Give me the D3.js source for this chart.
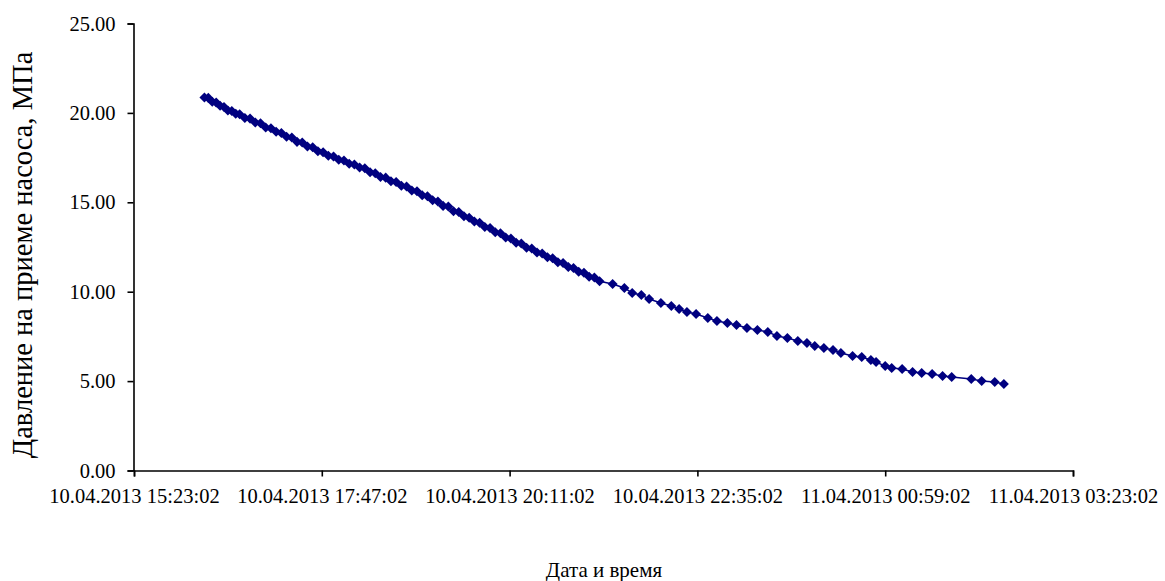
<!DOCTYPE html>
<html><head><meta charset="utf-8">
<script src="https://cdn.jsdelivr.net/npm/d3@7"></script>
<style>body{margin:0;background:#fff}svg{display:block}text{font-family:"Liberation Serif","Times New Roman",serif;fill:#000}</style>
</head><body><svg id="c" width="1165" height="581"></svg>
<script>
// Start of the time axis: 10.04.2013 15:23:02
const startTime = new Date(2013, 3, 10, 15, 23, 2);
// Elapsed minutes since start for each measurement
const elapsedMin = [54,57,60,63,66,69,72,75,78,81,85,89,93,97,101,105,109,113,117,121,125,129,133,137,141,145,149,153,157,161,165,169,173,177,181,185,189,193,197,201,205,209,213,217,221,225,229,233,237,241,245,249,253,257,261,265,269,273,277,281,285,289,293,297,301,305,309,313,317,321,325,329,333,337,341,345,349,353,357,
367,376,382,389,395,404,412,418,424,431,440,447,455,462,470,478,486,493,501,509,516,522,529,536,542,551,558,565,569,576,581,589,597,604,612,620,627,642,650,660,667];
// Pump intake pressure, MPa
const pressure = [20.86,20.84,20.62,20.58,20.40,20.33,20.14,20.10,19.95,19.92,19.72,19.68,19.46,19.42,19.18,19.14,18.94,18.88,18.66,18.62,18.38,18.34,18.12,18.08,17.86,17.80,17.60,17.56,17.38,17.34,17.15,17.12,16.94,16.90,16.68,16.63,16.42,16.38,16.18,16.14,15.93,15.88,15.66,15.62,15.40,15.34,15.12,15.05,14.80,14.76,14.50,14.46,14.22,14.14,13.93,13.86,13.62,13.56,13.32,13.27,13.03,12.97,12.74,12.69,12.46,12.41,12.19,12.14,11.93,11.87,11.65,11.60,11.38,11.33,11.11,11.06,10.84,10.79,10.58,
10.43,10.21,9.93,9.82,9.59,9.37,9.20,9.03,8.86,8.75,8.53,8.36,8.25,8.14,7.97,7.86,7.75,7.52,7.41,7.24,7.13,6.96,6.85,6.74,6.57,6.40,6.35,6.18,6.07,5.84,5.73,5.68,5.51,5.45,5.40,5.29,5.23,5.12,5.01,4.95,4.84];
const xTickLabels = ["10.04.2013 15:23:02","10.04.2013 17:47:02","10.04.2013 20:11:02","10.04.2013 22:35:02","11.04.2013 00:59:02","11.04.2013 03:23:02"];
const yTicks = [0,5,10,15,20,25];
const xTitle = "Дата и время";
const yTitle = "Давление на приеме насоса, МПа";

const svg = d3.select("#c");
const color = "#000080";
const tickStepMs = 144*60*1000;
const endTime = new Date(startTime.getTime() + 5*tickStepMs);
const x = d3.scaleTime().domain([startTime, endTime]).range([134, 1073]);
const y = d3.scaleLinear().domain([0, 25]).range([470.5, 23.5]);
const xTickVals = xTickLabels.map((_, i) => new Date(startTime.getTime() + i*tickStepMs));

const data = elapsedMin.map((m, i) => ({t: new Date(startTime.getTime() + m*60000), v: pressure[i]}));

// axes
const xAxis = d3.axisBottom(x).tickValues(xTickVals).tickFormat((d, i) => xTickLabels[i]).tickSizeOuter(0).tickSize(6).tickPadding(8);
const gx = svg.append("g").attr("transform", "translate(0,470.5)").call(xAxis);
gx.selectAll("text").style("font-size", "20.5px").attr("dy", "0.9em");
const yAxis = d3.axisLeft(y).tickValues(yTicks).tickFormat(d3.format(".2f")).tickSizeOuter(0).tickSize(6).tickPadding(12);
const gy = svg.append("g").attr("transform", "translate(133.5,0)").call(yAxis);
gy.selectAll("text").style("font-size", "20.5px");
svg.selectAll(".domain, .tick line").attr("stroke", "#000").attr("stroke-width", 1.6);

// line
svg.append("path").datum(data)
  .attr("d", d3.line().x(d => x(d.t)).y(d => y(d.v)))
  .attr("fill", "none").attr("stroke", color).attr("stroke-width", 1.5);
// markers
const sym = d3.symbol().type(d3.symbolDiamond2).size(64);
svg.append("g").selectAll("path").data(data).join("path")
  .attr("d", sym).attr("transform", d => `translate(${x(d.t)},${y(d.v)})`)
  .attr("fill", color);

// titles
svg.append("text").attr("x", 604).attr("y", 577).attr("text-anchor", "middle").style("font-size", "21px").text(xTitle);
svg.append("text").attr("transform", "translate(32,255) rotate(-90)").attr("text-anchor", "middle").style("font-size", "28.5px").text(yTitle);
</script></body></html>
